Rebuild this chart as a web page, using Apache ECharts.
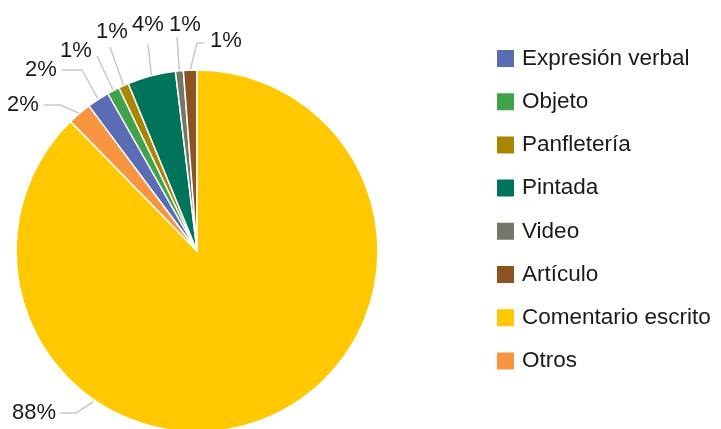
<!DOCTYPE html>
<html>
<head>
<meta charset="utf-8">
<script src="https://cdn.jsdelivr.net/npm/echarts@6/dist/echarts.min.js"></script>
<style>
    html, body { margin: 0; padding: 0; background: #fff; }
    #chart { width: 721px; height: 429px; }
</style>
</head>
<body>
<div id="chart"></div>
<script>
// categorías y valores (%)
var categorias = ['Expresión verbal', 'Objeto', 'Panfletería', 'Pintada', 'Video', 'Artículo', 'Comentario escrito', 'Otros']
var valores = [2.0, 1.1, 0.9, 4.3, 0.7, 1.2, 87.7, 2.1]
var colores = ['#5a6cb3', '#40a34a', '#a88600', '#00745a', '#737766', '#8b5222', '#ffc800', '#f79540']

var chart = echarts.init(document.getElementById('chart'))

// el primer sector empieza antes de las 12 para que "Comentario escrito" arranque arriba
var antes = 0
for (var i = 0; i < 6; i++) antes += valores[i]
var startAngle = 90 + antes * 3.6

var datos = categorias.map(function (c, i) {
    return { name: c, value: valores[i], itemStyle: { color: colores[i] } }
})

// posición de cada etiqueta (como en el original de Excel): centro del texto y codo de la línea
var posEtiquetas = {
    0: { x: 41, y: 70, linea: [[82, 70], [62, 70]] },
    1: { x: 76, y: 51, linea: [[97, 56]] },
    2: { x: 112, y: 32, linea: [[110, 47]] },
    3: { x: 148, y: 25, linea: [[148, 44]] },
    4: { x: 185, y: 25, linea: [[177, 37]] },
    5: { x: 226, y: 41, linea: [[197, 43], [204, 43]] },
    6: { x: 34, y: 413, inicio: [93, 402], linea: [[76, 413], [60, 413]] },
    7: { x: 23, y: 105, linea: [[60, 105], [44, 105]] },
}

var option = {
    animation: false,
    legend: {
        orient: 'vertical',
        left: 490,
        top: 42,
        itemWidth: 19,
        itemHeight: 19,
        itemGap: 20.2,
        icon: 'rect',
        data: categorias,
        selectedMode: false,
        textStyle: {
            fontFamily: 'Liberation Sans',
            fontSize: 22.5,
            color: '#1a1a1a',
            padding: [0, 0, 0, 2],
        },
    },
    series: [
        {
            type: 'pie',
            center: [197, 251],
            radius: 181,
            startAngle: startAngle,
            clockwise: true,
            silent: true,
            avoidLabelOverlap: false,
            itemStyle: { borderColor: '#fff', borderWidth: 1.5 },
            label: {
                show: true,
                overflow: 'none',
                fontFamily: 'Liberation Sans',
                fontSize: 22,
                color: '#1a1a1a',
                formatter: function (p) {
                    return Math.round(p.value) + '%'
                },
            },
            labelLine: {
                show: true,
                length: 18,
                length2: 12,
                lineStyle: { color: '#c8c8c8', width: 1.5 },
            },
            labelLayout: function (p) {
                var e = posEtiquetas[p.dataIndex]
                var inicio = e.inicio || p.labelLinePoints[0]
                return {
                    x: e.x,
                    y: e.y,
                    align: 'center',
                    verticalAlign: 'middle',
                    hideOverlap: false,
                    labelLinePoints: [inicio].concat(e.linea),
                }
            },
            data: datos,
        },
    ],
}
chart.setOption(option)
</script>
</body>
</html>
